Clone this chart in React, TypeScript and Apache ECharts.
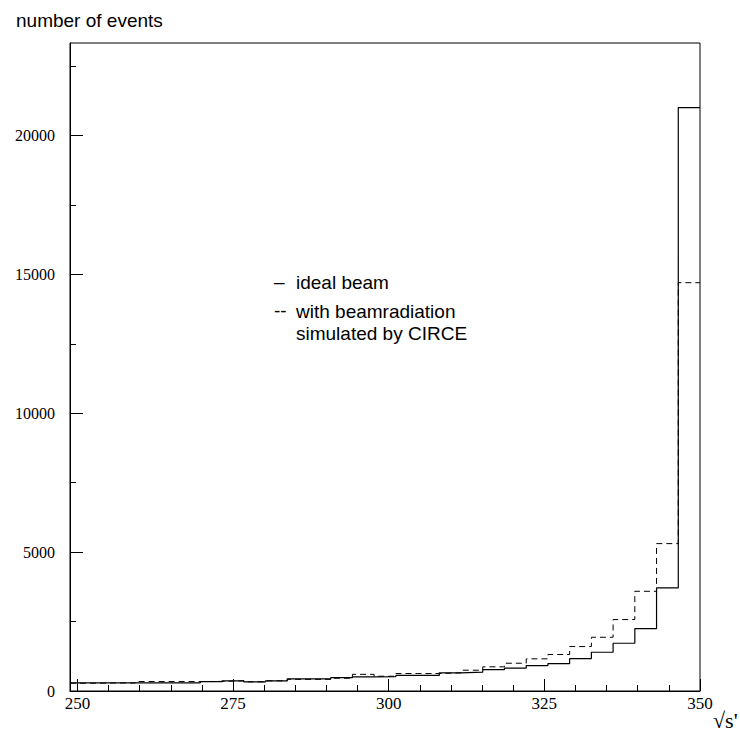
import React, { useEffect, useRef } from "react";
import * as echarts from "echarts";

// Histogram binning (29 bins from xMin to xMax)
const xMin = 248.8;
const xMax = 350;
const binCount = 29;

// Counts per bin: ideal beam (solid)
const idealBeam = [
  295, 295, 295, 295, 295, 295, 340, 367, 330, 367, 440, 440, 480, 510, 520,
  560, 560, 654, 677, 773, 820, 917, 989, 1169, 1396, 1719, 2248, 3712, 21000,
];
// Counts per bin: with beamradiation simulated by CIRCE (dashed)
const withRadiation = [
  280, 290, 290, 340, 340, 340, 345, 367, 330, 367, 420, 420, 460, 600, 532,
  629, 629, 654, 749, 870, 1000, 1158, 1313, 1600, 1935, 2572, 3590, 5306, 14700,
];

const yMax = 23330;
const yLabels = [0, 5000, 10000, 15000, 20000];
const yMinorTicks = [2500, 7500, 12500, 17500, 22500];
const xLabels = [250, 275, 300, 325, 350];
const xMinorTicks = [255, 260, 265, 270, 280, 285, 290, 295, 305, 310, 315, 320, 330, 335, 340, 345];

function toSteps(values: number[]) {
  const w = (xMax - xMin) / binCount;
  const pts: [number, number][] = values.map((v, i) => [xMin + i * w, v]);
  pts.push([xMax, values[values.length - 1]]);
  return pts;
}

const serif = "Liberation Serif, DejaVu Serif, serif";
const sans = "Liberation Sans, Arial, sans-serif";

export default function App() {
  const ref = useRef<HTMLDivElement>(null);
  useEffect(() => {
    if (!ref.current) return;
    const chart = echarts.init(ref.current, null, { renderer: "svg" });
    const baseX = {
      type: "value",
      min: xMin,
      max: xMax,
      splitLine: { show: false },
      position: "bottom",
    };
    const baseY = {
      type: "value",
      min: 0,
      max: yMax,
      splitLine: { show: false },
      position: "left",
    };
    chart.setOption({
      animation: false,
      backgroundColor: "#ffffff",
      title: {
        text: "number of events",
        left: 11,
        top: 6,
        textStyle: { fontFamily: sans, fontSize: 19, fontWeight: "normal", color: "#000" },
      },
      grid: {
        left: 70,
        top: 43,
        right: 40,
        bottom: 47,
        show: true,
        borderColor: "#000",
        borderWidth: 1,
        backgroundColor: "transparent",
      },
      xAxis: [
        {
          ...baseX,
          axisLine: { show: true, lineStyle: { color: "#000", width: 1 } },
          axisTick: {
            show: true,
            inside: true,
            length: 12,
            customValues: xLabels,
            lineStyle: { color: "#000" },
          },
          axisLabel: {
            show: true,
            customValues: xLabels,
            margin: 4,
            fontFamily: serif,
            fontSize: 17,
            color: "#000",
            formatter: (v: number) => String(v),
          },
        },
        {
          ...baseX,
          axisLine: { show: false },
          axisTick: {
            show: true,
            inside: true,
            length: 6,
            customValues: xMinorTicks,
            lineStyle: { color: "#000" },
          },
          axisLabel: { show: false },
        },
      ],
      yAxis: [
        {
          ...baseY,
          axisLine: { show: true, lineStyle: { color: "#000", width: 1 } },
          axisTick: {
            show: true,
            inside: true,
            length: 13,
            customValues: yLabels,
            lineStyle: { color: "#000" },
          },
          axisLabel: {
            show: true,
            customValues: yLabels,
            margin: 15,
            fontFamily: serif,
            fontSize: 16,
            color: "#000",
            formatter: (v: number) => String(v),
          },
        },
        {
          ...baseY,
          axisLine: { show: false },
          axisTick: {
            show: true,
            inside: true,
            length: 6,
            customValues: yMinorTicks,
            lineStyle: { color: "#000" },
          },
          axisLabel: { show: false },
        },
      ],
      series: [
        {
          name: "ideal beam",
          type: "line",
          step: "end",
          xAxisIndex: 0,
          yAxisIndex: 0,
          data: toSteps(idealBeam),
          symbol: "none",
          lineStyle: { color: "#000", width: 1.2, type: "solid" },
          z: 3,
        },
        {
          name: "with beamradiation simulated by CIRCE",
          type: "line",
          step: "end",
          xAxisIndex: 0,
          yAxisIndex: 0,
          data: toSteps(withRadiation),
          symbol: "none",
          lineStyle: { color: "#000", width: 1, type: [6, 4] },
          z: 2,
        },
      ],
      graphic: [
        {
          type: "text",
          left: 274,
          top: 272,
          style: { text: "–", font: `19px ${sans}`, fill: "#000" },
        },
        {
          type: "text",
          left: 296,
          top: 273,
          style: { text: "ideal beam", font: `19px ${sans}`, fill: "#000" },
        },
        {
          type: "text",
          left: 274,
          top: 301,
          style: { text: "--", font: `19px ${sans}`, fill: "#000" },
        },
        {
          type: "text",
          left: 296,
          top: 302,
          style: { text: "with beamradiation", font: `19px ${sans}`, fill: "#000" },
        },
        {
          type: "text",
          left: 296,
          top: 324,
          style: { text: "simulated by CIRCE", font: `19px ${sans}`, fill: "#000" },
        },
        {
          type: "text",
          left: 713,
          top: 709,
          style: { text: "√s'", font: `22px ${serif}`, fill: "#000" },
        },
      ],
    });
    return () => chart.dispose();
  }, []);
  return (
    <div
      ref={ref}
      style={{ position: "absolute", left: 0, top: 0, width: 740, height: 738 }}
    />
  );
}
